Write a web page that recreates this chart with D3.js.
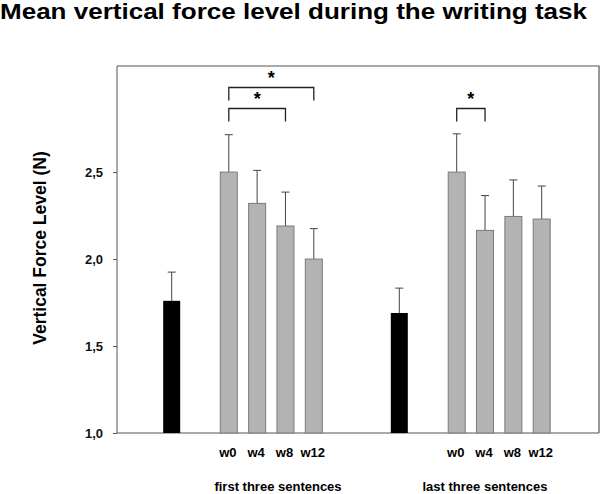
<!DOCTYPE html>
<html>
<head>
<meta charset="utf-8">
<script src="https://cdn.jsdelivr.net/npm/d3@7"></script>
<style>
  body { margin: 0; background: #fff; }
  svg { display: block; font-family: "Liberation Sans", Arial, sans-serif; }
  .axis path, .axis line { stroke: #555; }
  .axis text { font-size: 13px; font-weight: bold; fill: #111; }
</style>
</head>
<body>
<div id="chart"></div>
<script>
// Data
var groups = ['first three sentences', 'last three sentences'];
var weeks = ['w0', 'w4', 'w8', 'w12'];
var controlMean = [1.76, 1.69];
var controlErr = [1.925, 1.833];
var weekMean = [[2.50, 2.32, 2.19, 2.00], [2.50, 2.165, 2.245, 2.23]];
var weekErr = [[2.715, 2.51, 2.385, 2.175], [2.72, 2.365, 2.455, 2.42]];
var yTicks = [1.0, 1.5, 2.0, 2.5];
// significance brackets: group, from week index, to week index, level
var brackets = [[0, 0, 3, 0], [0, 0, 2, 1], [1, 0, 1, 1]];

var W = 600, H = 494;
var mLeft = 117, mRight = 599, mTop = 66, mBottom = 433;

var svg = d3.select('#chart').append('svg')
    .attr('width', W).attr('height', H);

var y = d3.scaleLinear().domain([1, 3.11]).range([mBottom, mTop]);

// x positions of bar centres
var controlX = [171.7, 399.3];
var weekStart = [228.8, 456.7];
var groupLabelX = [278, 485];
var step = d3.scaleLinear().domain([0, 3]).range([0, 85]);
function wx(g, i) { return weekStart[g] + step(i); }
var barW = 17;

// frame
svg.append('path')
    .attr('d', 'M' + mLeft + ',' + mTop + 'H' + mRight + 'V' + mBottom)
    .attr('fill', 'none').attr('stroke', '#555').attr('stroke-width', 1.2);

// y axis
var yAxis = d3.axisLeft(y).tickValues(yTicks).tickSize(4).tickPadding(10)
    .tickFormat(function(d) { return d3.format('.1f')(d).replace('.', ','); });
svg.append('g')
    .attr('class', 'axis y')
    .attr('transform', 'translate(' + mLeft + ',0)')
    .call(yAxis)
    .call(function(g) { g.select('.domain').attr('d', 'M0,' + mTop + 'V' + mBottom); });

// x axis baseline
svg.append('line')
    .attr('x1', mLeft).attr('x2', mRight).attr('y1', mBottom).attr('y2', mBottom)
    .attr('stroke', '#555').attr('stroke-width', 1.2);

function errBar(cx, from, to) {
    svg.append('line').attr('x1', cx).attr('x2', cx)
        .attr('y1', y(from)).attr('y2', y(to)).attr('stroke', '#444');
    svg.append('line').attr('x1', cx - 4).attr('x2', cx + 4)
        .attr('y1', y(to)).attr('y2', y(to)).attr('stroke', '#444');
}

groups.forEach(function(name, g) {
    // control bar
    errBar(controlX[g], controlMean[g], controlErr[g]);
    svg.append('rect')
        .attr('x', controlX[g] - barW / 2).attr('width', barW)
        .attr('y', y(controlMean[g])).attr('height', mBottom - y(controlMean[g]))
        .attr('fill', '#000');

    weeks.forEach(function(w, i) {
        var cx = wx(g, i);
        errBar(cx, weekMean[g][i], weekErr[g][i]);
        svg.append('rect')
            .attr('x', cx - barW / 2).attr('width', barW)
            .attr('y', y(weekMean[g][i])).attr('height', mBottom - y(weekMean[g][i]))
            .attr('fill', '#b3b3b3').attr('stroke', '#7a7a7a').attr('stroke-width', 1);
        svg.append('text')
            .attr('x', cx - 1).attr('y', 457)
            .attr('text-anchor', 'middle')
            .attr('font-size', 13).attr('font-weight', 'bold')
            .text(w);
    });

    svg.append('text')
        .attr('x', groupLabelX[g]).attr('y', 491)
        .attr('text-anchor', 'middle')
        .attr('font-size', 13).attr('font-weight', 'bold')
        .text(name);
});

// significance brackets
brackets.forEach(function(b) {
    var x1 = wx(b[0], b[1]), x2 = wx(b[0], b[2]);
    var by = b[3] === 0 ? 87.5 : 108.5;
    svg.append('path')
        .attr('d', 'M' + x1 + ',' + (by + 13) + 'V' + by + 'H' + x2 + 'V' + (by + 13))
        .attr('fill', 'none').attr('stroke', '#222').attr('stroke-width', 1.3);
    svg.append('text')
        .attr('x', (x1 + x2) / 2).attr('y', by - 4)
        .attr('text-anchor', 'middle')
        .attr('font-size', 18).attr('font-weight', 'bold')
        .text('*');
});

// y axis title
svg.append('text')
    .attr('transform', 'translate(46,248) rotate(-90)')
    .attr('text-anchor', 'middle')
    .attr('font-size', 17.5).attr('font-weight', 'bold')
    .text('Vertical Force Level (N)');

// title
svg.append('text')
    .attr('x', 0).attr('y', 19)
    .attr('font-size', 22.5).attr('font-weight', 'bold')
    .attr('textLength', 587).attr('lengthAdjust', 'spacingAndGlyphs')
    .text('Mean vertical force level during the writing task');
</script>
</body>
</html>
